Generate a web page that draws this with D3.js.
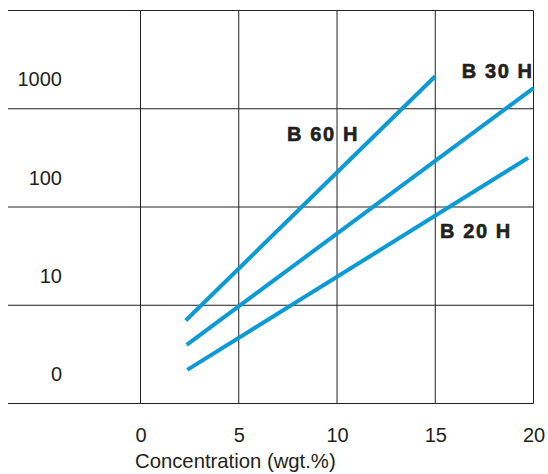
<!DOCTYPE html>
<html>
<head>
<meta charset="utf-8">
<script src="https://cdn.jsdelivr.net/npm/d3@7"></script>
<style>
  html, body { margin: 0; padding: 0; background: #fff; }
  svg { display: block; }
</style>
</head>
<body>
<svg id="chart" width="548" height="474"></svg>
<script>
// ---- data ----
const xTicks = [0, 5, 10, 15, 20];
const yGrid = [1, 10, 100, 1000, 10000];
const yTickLabels = ["0", "10", "100", "1000"];
const yTickPos = [2, 20, 200, 2000];
const seriesNames = ["B 60 H", "B 30 H", "B 20 H"];
const b60x = [2.3, 15];
const b60y = [7.0, 2140];
const b30x = [2.35, 20];
const b30y = [3.95, 1620];
const b20x = [2.38, 19.73];
const b20y = [2.2, 316];
const labelAnchors = [[7.46, 468], [16.35, 2040], [15.24, 48.7]];
const xTitle = "Concentration (wgt.%)";

// ---- drawing ----
const svg = d3.select("#chart");
const x = d3.scaleLinear().domain([0, 20]).range([140.5, 533.5]);
const y = d3.scaleLog().domain([1, 10000]).range([403.5, 10.5]);
const ink = "#231f20";
const font = "Liberation Sans, Arial, sans-serif";

// vertical grid
svg.append("g").selectAll("line").data(xTicks).join("line")
  .attr("x1", d => x(d)).attr("x2", d => x(d))
  .attr("y1", y(10000)).attr("y2", y(1))
  .attr("stroke", ink).attr("stroke-width", 1);

// horizontal grid
svg.append("g").selectAll("line").data(yGrid).join("line")
  .attr("x1", 8).attr("x2", x(20))
  .attr("y1", d => y(d)).attr("y2", d => y(d))
  .attr("stroke", ink).attr("stroke-width", 1);

// y labels
svg.append("g").selectAll("text").data(yTickLabels).join("text")
  .attr("x", 62)
  .attr("y", (d, i) => y(yTickPos[i]))
  .attr("dy", "0.36em")
  .attr("text-anchor", "end")
  .attr("font-family", font)
  .attr("font-size", 20)
  .attr("fill", ink)
  .text(d => d);

// x axis labels
const xAxis = d3.axisBottom(x).tickValues(xTicks).tickSize(0).tickPadding(0);
const gx = svg.append("g").attr("transform", `translate(0,${441.5})`).call(xAxis);
gx.select(".domain").remove();
gx.selectAll("text")
  .attr("y", 0).attr("dy", 0)
  .attr("font-family", font)
  .attr("font-size", 20)
  .attr("fill", ink);

svg.append("text")
  .attr("x", 135).attr("y", 468)
  .attr("font-family", font)
  .attr("font-size", 20.3)
  .attr("fill", ink)
  .text(xTitle);

// series lines
const series = [
  { name: seriesNames[0], xs: b60x, ys: b60y },
  { name: seriesNames[1], xs: b30x, ys: b30y },
  { name: seriesNames[2], xs: b20x, ys: b20y }
];
const line = d3.line().x(d => x(d[0])).y(d => y(d[1]));
svg.append("g").selectAll("path").data(series).join("path")
  .attr("d", s => line(s.xs.map((v, i) => [v, s.ys[i]])))
  .attr("fill", "none")
  .attr("stroke", "#0a9bd7")
  .attr("stroke-width", 4);

// series labels
svg.append("g").selectAll("text").data(series).join("text")
  .attr("x", (s, i) => x(labelAnchors[i][0]))
  .attr("y", (s, i) => y(labelAnchors[i][1]))
  .attr("font-family", font)
  .attr("font-weight", "bold")
  .attr("font-size", 20)
  .attr("letter-spacing", 1.6)
  .attr("fill", ink)
  .attr("stroke", ink)
  .attr("stroke-width", 0.6)
  .text(s => s.name);
</script>
</body>
</html>
